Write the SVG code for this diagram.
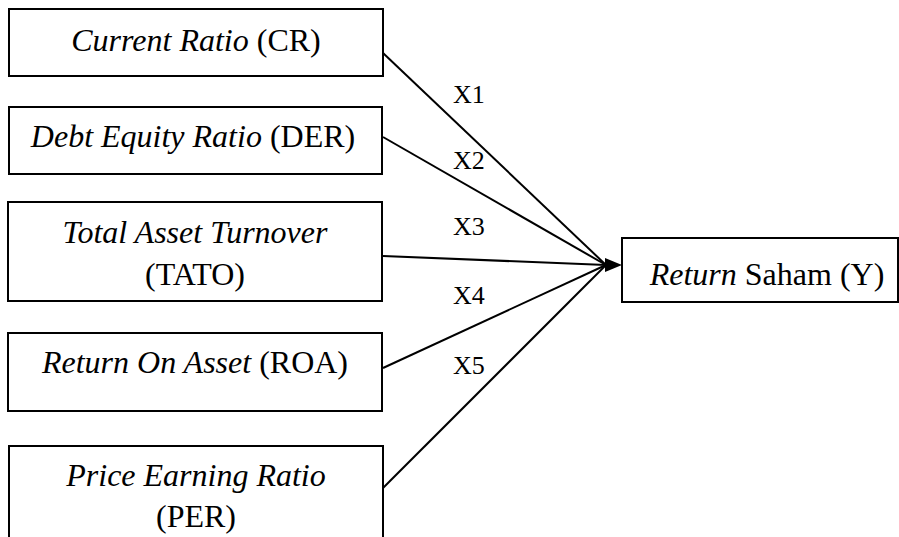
<svg xmlns="http://www.w3.org/2000/svg" width="899" height="537" viewBox="0 0 899 537">
<style>
.box{fill:#fff;stroke:#000;stroke-width:2}
.t{font-size:32px;fill:#000;text-anchor:middle}
.lbl{font-size:26px;fill:#000}
.i{font-style:italic}
.c{stroke:#000;stroke-width:2;fill:none}
</style>
<rect width="899" height="537" fill="#fff"/>
<g font-family="Liberation Serif, DejaVu Serif, serif">
<g id="cr">
<rect class="box" x="9" y="9" width="374" height="67"/>
<text class="t" x="196" y="51" font-family="Liberation Serif, serif"><tspan class="i">Current Ratio</tspan> (CR)</text>
</g>
<g id="der">
<rect class="box" x="9" y="107" width="373" height="67"/>
<text class="t" x="193" y="147" font-family="Liberation Serif, serif"><tspan class="i">Debt Equity Ratio</tspan> (DER)</text>
</g>
<g id="tato">
<rect class="box" x="8" y="202" width="374" height="99"/>
<text class="t" x="195" y="243" font-family="Liberation Serif, serif"><tspan class="i">Total Asset Turnover</tspan></text>
<text class="t" x="195" y="285" font-family="Liberation Serif, serif">(TATO)</text>
</g>
<g id="roa">
<rect class="box" x="8" y="333" width="374" height="78"/>
<text class="t" x="195" y="373" font-family="Liberation Serif, serif"><tspan class="i">Return On Asset</tspan> (ROA)</text>
</g>
<g id="per">
<rect class="box" x="9" y="446" width="374" height="100"/>
<text class="t" x="196" y="486" font-family="Liberation Serif, serif"><tspan class="i">Price Earning Ratio</tspan></text>
<text class="t" x="196" y="527" font-family="Liberation Serif, serif">(PER)</text>
</g>
<g id="y">
<rect class="box" x="622" y="238" width="276" height="64"/>
<text class="t" x="767" y="285" font-family="Liberation Serif, serif"><tspan class="i">Return</tspan> Saham (Y)</text>
</g>
<g id="connectors">
<line class="c" x1="383" y1="53" x2="606" y2="265"/>
<line class="c" x1="383" y1="137" x2="606" y2="265"/>
<line class="c" x1="383" y1="256" x2="606" y2="265"/>
<line class="c" x1="383" y1="368" x2="606" y2="265"/>
<line class="c" x1="383" y1="488" x2="606" y2="265"/>
<polygon points="605,258 622,265 605,272" fill="#000"/>
<text class="lbl" x="453" y="103" font-family="Liberation Serif, serif">X1</text>
<text class="lbl" x="453" y="169" font-family="Liberation Serif, serif">X2</text>
<text class="lbl" x="453" y="235" font-family="Liberation Serif, serif">X3</text>
<text class="lbl" x="453" y="304" font-family="Liberation Serif, serif">X4</text>
<text class="lbl" x="453" y="374" font-family="Liberation Serif, serif">X5</text>
</g>
</g>
</svg>
